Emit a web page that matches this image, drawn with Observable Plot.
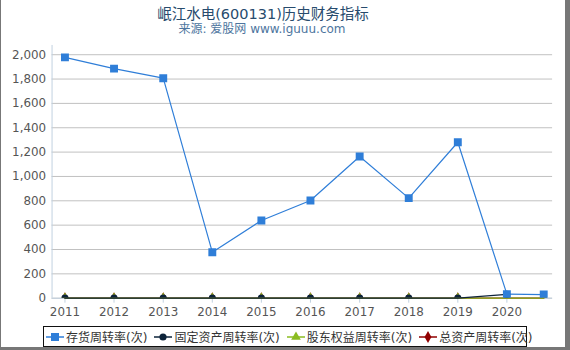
<!DOCTYPE html>
<html><head><meta charset="utf-8">
<script src="https://cdn.jsdelivr.net/npm/d3@7"></script>
<script src="https://cdn.jsdelivr.net/npm/@observablehq/plot@0.6"></script>
<style>
html,body{margin:0;padding:0;background:#777;width:570px;height:350px;overflow:hidden;}
#wrap{position:absolute;left:1px;top:0;width:564px;height:347px;background:#fff;font-family:"DejaVu Sans","Noto Sans CJK SC",sans-serif;}
#title{position:absolute;left:0;width:524px;top:2px;text-align:center;font-size:14.5px;color:#274b6d;}
#sub{position:absolute;left:0;width:522px;top:19px;text-align:center;font-size:12px;color:#4d759e;}
#chart{position:absolute;left:-1px;top:40px;line-height:0;}
#chart svg{display:block;}
#legend{position:absolute;left:42px;top:326px;width:482px;height:19px;border:1px solid #111;display:flex;align-items:center;font-size:12px;color:#333;white-space:nowrap;}
.item{display:flex;align-items:center;margin-left:2px;margin-right:5px;}
.item svg{margin-right:2px;}
</style></head><body>
<div id="wrap">
<div id="title">岷江水电(600131)历史财务指标</div>
<div id="sub">来源: 爱股网 www.iguuu.com</div>
<div id="chart"></div>
<div id="legend"></div>
</div>
<script>
const dates = ["2011-01-01","2012-01-01","2013-01-01","2014-01-01","2015-01-01","2016-01-01","2017-01-01","2018-01-01","2019-01-01","2020-01-01","2020-10-01"];
const tickYears = ["2011","2012","2013","2014","2015","2016","2017","2018","2019","2020"];
const inventoryTurnover = [1978,1886,1807,378,638,802,1164,822,1281,33,30];
const fixedAssetTurnover = [0.3,0.3,0.3,0.3,0.3,0.3,0.3,0.3,0.3,31,null];
const equityTurnover = [0.5,0.5,0.5,0.5,0.5,0.5,0.5,0.5,0.5,0.5,0.5];
const totalAssetTurnover = [0.2,0.2,0.2,0.2,0.2,0.2,0.2,0.2,0.2,0.2,0.2];
const seriesNames = ["存货周转率(次)","固定资产周转率(次)","股东权益周转率(次)","总资产周转率(次)"];
const colors = ["#2f7ed8","#0d233a","#8bbc21","#910000"];
const symbols = ["square","circle","triangle","diamond"];
const yTicks = [0,200,400,600,800,1000,1200,1400,1600,1800,2000];

const parse = d3.utcParse("%Y-%m-%d");
const allValues = [inventoryTurnover, fixedAssetTurnover, equityTurnover, totalAssetTurnover];
const rows = [];
allValues.forEach((vals, s) => vals.forEach((v, i) => rows.push({date: parse(dates[i]), value: v, series: seriesNames[s]})));
const xDomain = [parse("2010-09-27"), parse("2020-12-06")];
const ticks = tickYears.map(y => parse(y + "-01-01"));
const radius = [4.5, 3.6, 3.6, 3.6];
const order = [3,2,1,0];
const marks = [
  Plot.gridY(yTicks, {stroke: "#c0c0c0", strokeOpacity: 1}),
  Plot.ruleX([xDomain[0]], {stroke: "#c0d0e0"}),
  Plot.ruleY([0], {stroke: "#c0d0e0"}),
  Plot.axisY(yTicks, {tickSize: 0, tickPadding: 6, tickFormat: d3.format(","), fontSize: 12, fill: "#555", label: null}),
  Plot.axisX(ticks, {tickSize: 5, tickPadding: 4, stroke: "#c0d0e0", tickFormat: d3.utcFormat("%Y"), fontSize: 12, fill: "#555", label: null})
];
for (const s of order) {
  const data = rows.filter(r => r.series === seriesNames[s] && r.value != null);
  marks.push(Plot.line(data, {x: "date", y: "value", stroke: colors[s], strokeWidth: 1.2}));
}
for (const s of order) {
  const data = rows.filter(r => r.series === seriesNames[s] && r.value != null);
  marks.push(Plot.dot(data, {x: "date", y: "value", fill: colors[s], symbol: symbols[s], r: radius[s], clip: true}));
}
const chart = Plot.plot({
  width: 570, height: 282,
  marginLeft: 52, marginRight: 13, marginTop: 5, marginBottom: 22,
  style: {fontFamily: "DejaVu Sans, sans-serif", fontSize: "12px", background: "transparent", overflow: "visible"},
  x: {type: "utc", domain: xDomain, axis: null},
  y: {domain: [0, 2076], axis: null},
  marks
});
document.getElementById("chart").appendChild(chart);

const legend = document.getElementById("legend");
seriesNames.forEach((name, s) => {
  const item = document.createElement("div");
  item.className = "item";
  const sym = d3.symbol(d3["symbol" + symbols[s][0].toUpperCase() + symbols[s].slice(1)], Math.PI * radius[s] * radius[s])();
  item.innerHTML = `<svg width="18" height="12"><line x1="0" x2="18" y1="6" y2="6" stroke="${colors[s]}" stroke-width="1.5"/><path d="${sym}" transform="translate(9,6)" fill="${colors[s]}"/></svg><span>${name}</span>`;
  legend.appendChild(item);
});
</script>
</body></html>
